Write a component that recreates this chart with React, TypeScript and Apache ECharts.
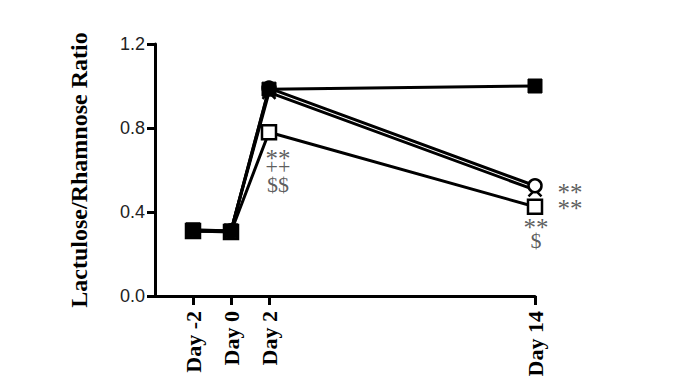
import React, { useEffect, useRef } from "react";
import * as echarts from "echarts";

const categories = ["", "Day -2", "Day 0", "Day 2", "", "", "", "", "", "", "Day 14"];
const seriesDays = ["Day -2", "Day 0", "Day 2", "Day 14"];
const filledSquare = [0.315, 0.31, 0.985, 1.0];
const openCircle = [0.31, 0.31, 0.99, 0.525];
const crossMark = [0.31, 0.31, 0.97, 0.505];
const openSquare = [0.31, 0.305, 0.78, 0.425];
const yTicks = [0, 0.4, 0.8, 1.2];

const annotationDays = ["Day 2", "Day 2", "Day 2", "Day 14", "Day 14", "Day 14", "Day 14"];
const annotationValues = [0.655, 0.615, 0.53, 0.495, 0.415, 0.325, 0.265];
const annotationTexts = ["**", "++", "$$", "**", "**", "**", "$"];
const annotationShiftX = [9, 9, 9, 35, 35, 1, 1];

const crossPath = "path://M0,0L10,10M10,0L0,10";

export default function App() {
  const ref = useRef<HTMLDivElement>(null);
  useEffect(() => {
    if (!ref.current) return;
    const chart = echarts.init(ref.current, undefined, { renderer: "svg" });
    const lineStyle = { color: "#000", width: 3 };
    const mk = (data: number[]) => seriesDays.map((d, i) => [d, data[i]]);
    chart.setOption({
      animation: false,
      grid: { left: 155, right: 155, top: 44, bottom: 93 },
      xAxis: {
        type: "category",
        data: categories,
        boundaryGap: false,
        axisLine: { lineStyle: { color: "#000", width: 3 } },
        axisTick: {
          show: true,
          length: 9,
          lineStyle: { color: "#000", width: 3 },
          interval: (i: number, v: string) => v !== "",
        },
        axisLabel: {
          rotate: 90,
          interval: 0,
          margin: 15,
          color: "#000",
          fontFamily: "Liberation Serif",
          fontWeight: "bold",
          fontSize: 22,
        },
        splitLine: { show: false },
      },
      yAxis: {
        type: "value",
        min: 0,
        max: 1.2,
        interval: 0.4,
        name: "Lactulose/Rhamnose Ratio",
        nameLocation: "middle",
        nameGap: 64,
        nameTextStyle: {
          color: "#000",
          fontFamily: "Liberation Serif",
          fontWeight: "bold",
          fontSize: 24,
        },
        axisLine: { show: true, lineStyle: { color: "#000", width: 3 } },
        axisTick: { show: true, length: 8, lineStyle: { color: "#000", width: 3 } },
        axisLabel: {
          color: "#222",
          fontFamily: "Liberation Sans",
          fontSize: 18,
          margin: 10,
          formatter: (v: number) => (yTicks.includes(+v.toFixed(1)) ? v.toFixed(1) : ""),
        },
        splitLine: { show: false },
      },
      series: [
        {
          type: "line",
          data: mk(openSquare),
          symbol: "rect",
          symbolSize: 14,
          lineStyle,
          itemStyle: { color: "#fff", borderColor: "#000", borderWidth: 2.5 },
          z: 2,
        },
        {
          type: "line",
          data: mk(crossMark),
          symbol: crossPath,
          symbolSize: 13,
          lineStyle,
          itemStyle: { color: "none", borderColor: "#000", borderWidth: 2.5 },
          z: 3,
        },
        {
          type: "line",
          data: mk(openCircle),
          symbol: "circle",
          symbolSize: 13,
          lineStyle,
          itemStyle: { color: "#fff", borderColor: "#000", borderWidth: 2.5 },
          z: 4,
        },
        {
          type: "line",
          data: mk(filledSquare),
          symbol: "rect",
          symbolSize: 14,
          lineStyle,
          itemStyle: { color: "#000", borderColor: "#000", borderWidth: 1 },
          z: 5,
        },
        {
          type: "scatter",
          symbolSize: 0,
          z: 6,
          color: "#333",
          itemStyle: { color: "#333" },
          data: annotationDays.map((d, i) => ({
            value: [d, annotationValues[i]],
            label: {
              show: true,
              position: "inside",
              offset: [annotationShiftX[i], 0],
              formatter: annotationTexts[i],
              color: "#333",
              textBorderWidth: 0,
              textBorderColor: "transparent",
              fontFamily: "Liberation Serif",
              fontSize: annotationTexts[i] === "**" ? 25 : 22,
            },
          })),
        },
      ],
    });
    return () => chart.dispose();
  }, []);
  return (
    <div
      ref={ref}
      style={{ position: "fixed", left: 0, top: 0, width: 690, height: 389, background: "#fff" }}
    />
  );
}
